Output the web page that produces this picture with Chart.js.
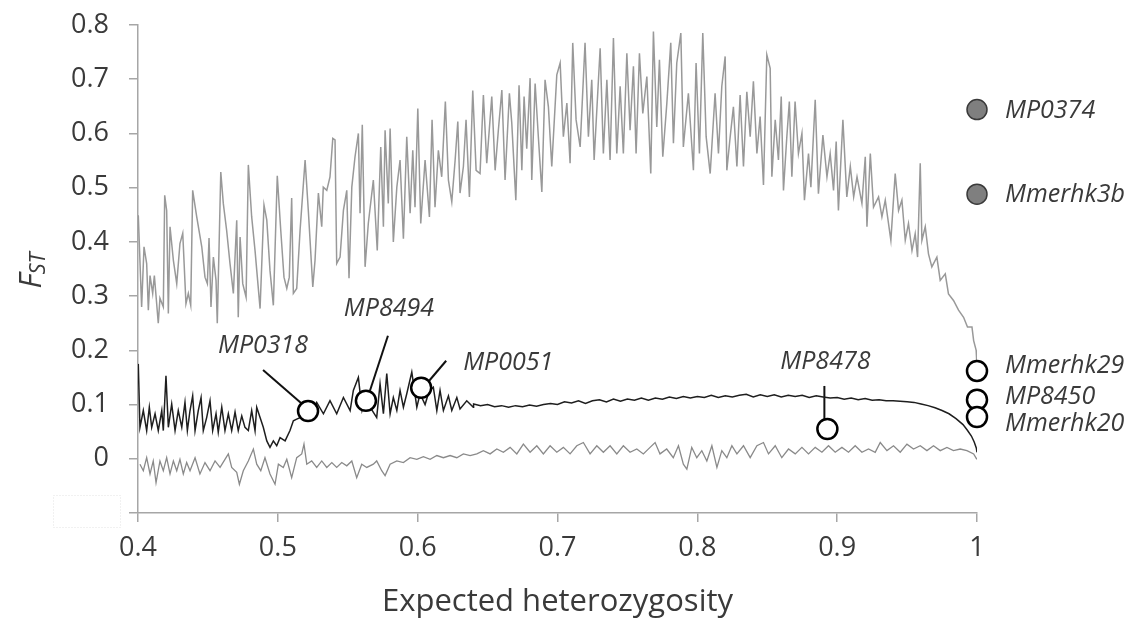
<!DOCTYPE html>
<html>
<head>
<meta charset="utf-8">
<script src="https://cdn.jsdelivr.net/npm/chart.js@4.4.1/dist/chart.umd.min.js"></script>
<style>
  html, body { margin: 0; padding: 0; background: #ffffff; }
  #chart { display: block; }
</style>
</head>
<body>
<canvas id="chart" width="1130" height="625"></canvas>
<script>
// tick labels
var xTicks = [0.4, 0.5, 0.6, 0.7, 0.8, 0.9, 1];
var yTicks = [-0.1, 0, 0.1, 0.2, 0.3, 0.4, 0.5, 0.6, 0.7, 0.8];

// upper line (grey, strongly oscillating)
var upperX = [0.4002,0.4026,0.4043,0.4062,0.4074,0.4086,0.4105,0.4117,0.4145,0.4157,0.4181,0.4191,0.4205,0.4217,0.4229,0.4253,0.4277,0.4300,0.4320,0.4343,
  0.4360,0.4377,0.4391,0.4420,0.4456,0.4479,0.4496,0.4508,0.4522,0.4539,0.4558,0.4567,0.4592,0.4610,0.4634,0.4658,0.4682,0.4706,0.4717,0.4730,
  0.4749,0.4773,0.4789,0.4813,0.4837,0.4873,0.4901,0.4921,0.4944,0.4968,0.4996,0.5021,0.5044,0.5064,0.5082,0.5099,0.5111,0.5135,0.5159,0.5195,
  0.5218,0.5250,0.5266,0.5290,0.5314,0.5325,0.5350,0.5373,0.5393,0.5409,0.5421,0.5445,0.5469,0.5493,0.5509,0.5529,0.5552,0.5576,0.5588,0.5604,
  0.5624,0.5647,0.5683,0.5711,0.5736,0.5755,0.5767,0.5790,0.5803,0.5826,0.5851,0.5874,0.5898,0.5922,0.5946,0.5965,0.5981,0.6001,0.6022,0.6053,
  0.6084,0.6103,0.6124,0.6148,0.6172,0.6198,0.6220,0.6244,0.6268,0.6287,0.6303,0.6327,0.6346,0.6370,0.6394,0.6418,0.6446,0.6470,0.6494,0.6530,
  0.6554,0.6577,0.6602,0.6625,0.6656,0.6673,0.6702,0.6725,0.6745,0.6761,0.6780,0.6804,0.6816,0.6840,0.6863,0.6888,0.6911,0.6935,0.6959,0.6995,
  0.7019,0.7042,0.7067,0.7090,0.7109,0.7133,0.7162,0.7197,0.7221,0.7245,0.7262,0.7305,0.7328,0.7353,0.7376,0.7400,0.7424,0.7448,0.7471,0.7496,
  0.7519,0.7543,0.7562,0.7586,0.7610,0.7639,0.7667,0.7686,0.7710,0.7729,0.7753,0.7782,0.7810,0.7829,0.7853,0.7882,0.7900,0.7936,0.7972,0.7991,
  0.8015,0.8039,0.8063,0.8092,0.8127,0.8151,0.8175,0.8199,0.8211,0.8235,0.8258,0.8283,0.8306,0.8330,0.8354,0.8378,0.8401,0.8426,0.8449,0.8473,
  0.8497,0.8521,0.8533,0.8557,0.8580,0.8600,0.8616,0.8640,0.8658,0.8676,0.8699,0.8723,0.8748,0.8766,0.8795,0.8812,0.8843,0.8866,0.8898,0.8927,
  0.8950,0.8974,0.8993,0.9009,0.9041,0.9069,0.9094,0.9118,0.9142,0.9177,0.9201,0.9213,0.9237,0.9260,0.9296,0.9320,0.9344,0.9384,0.9415,0.9439,
  0.9463,0.9487,0.9510,0.9535,0.9558,0.9575,0.9594,0.9606,0.9630,0.9653,0.9677,0.9713,0.9737,0.9773,0.9796,0.9832,0.9868,0.9904,0.9932,0.9964,
  0.9976,0.9994,0.9999];
var upperY = [0.449,0.280,0.391,0.360,0.274,0.338,0.305,0.338,0.250,0.296,0.280,0.486,0.458,0.268,0.428,0.366,0.323,0.397,0.416,0.286,
  0.305,0.283,0.495,0.446,0.391,0.335,0.323,0.407,0.280,0.372,0.329,0.250,0.529,0.471,0.421,0.360,0.305,0.440,0.261,0.409,
  0.323,0.298,0.542,0.446,0.384,0.277,0.468,0.440,0.347,0.283,0.522,0.421,0.335,0.314,0.335,0.481,0.305,0.314,0.421,0.551,
  0.458,0.317,0.366,0.490,0.428,0.501,0.495,0.520,0.591,0.588,0.360,0.372,0.458,0.495,0.333,0.501,0.557,0.600,0.453,0.616,
  0.354,0.434,0.514,0.384,0.575,0.428,0.606,0.471,0.609,0.400,0.501,0.551,0.406,0.594,0.453,0.569,0.464,0.646,0.434,0.551,
  0.446,0.625,0.464,0.569,0.520,0.659,0.514,0.474,0.551,0.622,0.490,0.539,0.625,0.483,0.679,0.532,0.526,0.671,0.545,0.668,
  0.532,0.606,0.680,0.514,0.674,0.619,0.477,0.689,0.532,0.668,0.572,0.702,0.514,0.692,0.594,0.492,0.699,0.649,0.539,0.708,
  0.730,0.594,0.656,0.545,0.767,0.625,0.575,0.767,0.594,0.699,0.551,0.757,0.563,0.699,0.551,0.776,0.563,0.687,0.563,0.748,
  0.606,0.724,0.563,0.748,0.637,0.705,0.526,0.788,0.612,0.736,0.557,0.656,0.767,0.582,0.730,0.785,0.575,0.674,0.532,0.730,
  0.563,0.785,0.594,0.526,0.674,0.563,0.687,0.742,0.532,0.594,0.649,0.539,0.671,0.539,0.677,0.594,0.696,0.563,0.631,0.505,
  0.745,0.720,0.520,0.625,0.551,0.668,0.495,0.594,0.659,0.520,0.659,0.563,0.600,0.477,0.563,0.501,0.662,0.489,0.597,0.520,
  0.563,0.495,0.585,0.458,0.625,0.483,0.539,0.483,0.520,0.471,0.557,0.428,0.563,0.464,0.483,0.446,0.477,0.403,0.526,0.458,
  0.477,0.403,0.434,0.384,0.415,0.372,0.545,0.403,0.428,0.378,0.354,0.372,0.329,0.341,0.304,0.292,0.274,0.261,0.243,0.243,
  0.218,0.200,0.175];

// median line (black)
var midX = [0.4002,0.4014,0.4038,0.4062,0.4081,0.4098,0.4122,0.4145,0.4170,0.4181,0.4200,0.4217,0.4241,0.4265,0.4288,0.4313,0.4336,0.4353,0.4372,0.4391,
  0.4408,0.4431,0.4451,0.4467,0.4491,0.4515,0.4534,0.4558,0.4574,0.4599,0.4622,0.4646,0.4670,0.4694,0.4717,0.4742,0.4765,0.4789,0.4813,0.4837,
  0.4849,0.4873,0.4896,0.4921,0.4944,0.4968,0.4992,0.5016,0.5052,0.5087,0.5111,0.5135,0.5159,0.5187,0.5216,0.5245,0.5278,0.5326,0.5373,0.5421,
  0.5469,0.5517,0.5540,0.5576,0.5602,0.5631,0.5660,0.5707,0.5731,0.5755,0.5779,0.5803,0.5826,0.5851,0.5874,0.5898,0.5922,0.5958,0.5994,0.6017,
  0.6053,0.6082,0.6112,0.6137,0.6160,0.6184,0.6220,0.6244,0.6280,0.6303,0.6351,0.6398,
  0.640,0.645,0.650,0.655,0.660,0.665,0.670,0.675,0.680,0.685,0.690,0.695,0.700,0.705,0.710,0.715,0.720,0.725,0.730,0.735,
  0.740,0.745,0.750,0.755,0.760,0.765,0.770,0.775,0.780,0.785,0.790,0.795,0.800,0.805,0.810,0.815,0.820,0.825,0.830,0.835,
  0.840,0.845,0.850,0.855,0.860,0.865,0.870,0.875,0.880,0.885,0.890,0.895,0.900,0.905,0.910,0.915,0.920,0.925,0.930,0.935,
  0.940,0.945,0.950,0.955,0.960,0.965,0.970,0.975,0.980,0.985,0.990,0.993,0.996,0.998,0.9995,1.000];
var midY = [0.175,0.058,0.089,0.052,0.095,0.058,0.083,0.052,0.089,0.052,0.153,0.058,0.101,0.052,0.089,0.058,0.104,0.052,0.089,0.116,
  0.052,0.089,0.113,0.052,0.076,0.107,0.052,0.083,0.049,0.095,0.052,0.083,0.052,0.086,0.052,0.079,0.058,0.052,0.089,0.052,
  0.095,0.076,0.058,0.033,0.021,0.033,0.024,0.039,0.033,0.052,0.070,0.073,0.076,0.085,0.088,0.082,0.104,0.083,0.107,0.083,
  0.113,0.089,0.126,0.150,0.090,0.120,0.095,0.076,0.138,0.083,0.157,0.083,0.113,0.089,0.126,0.095,0.120,0.160,0.095,0.120,
  0.100,0.125,0.132,0.089,0.126,0.089,0.116,0.089,0.113,0.092,0.107,0.095,
  0.101,0.098,0.100,0.096,0.098,0.095,0.098,0.096,0.099,0.097,0.100,0.102,0.100,0.105,0.103,0.107,0.102,0.107,0.109,0.105,
  0.110,0.106,0.110,0.108,0.112,0.108,0.112,0.110,0.114,0.111,0.115,0.112,0.115,0.113,0.117,0.113,0.116,0.114,0.117,0.119,
  0.114,0.118,0.115,0.118,0.114,0.117,0.115,0.117,0.113,0.116,0.114,0.112,0.113,0.110,0.112,0.109,0.111,0.108,0.109,0.107,
  0.107,0.106,0.105,0.104,0.101,0.098,0.094,0.089,0.083,0.074,0.063,0.053,0.042,0.031,0.020,0.012];

// lower line (grey)
var lowX = [0.4014,0.4038,0.4062,0.4086,0.4109,0.4129,0.4157,0.4181,0.4205,0.4229,0.4253,0.4277,0.4300,0.4324,0.4348,0.4372,0.4408,0.4443,0.4479,0.4515,
  0.4551,0.4587,0.4622,0.4646,0.4670,0.4706,0.4725,0.4753,0.4789,0.4825,0.4849,0.4878,0.4908,0.4944,0.4980,0.5004,0.5039,0.5064,0.5099,0.5135,
  0.5171,0.5187,0.5207,0.5242,0.5278,0.5314,0.5350,0.5386,0.5421,0.5457,0.5493,0.5529,0.5564,0.5600,0.5636,0.5683,0.5707,0.5743,0.5767,0.5803,
  0.5851,0.5898,0.5946,0.5994,0.6041,0.6089,0.6137,0.6184,0.6232,0.6280,0.6327,0.6375,0.6423,0.6470,0.6518,0.6566,0.6613,0.6661,0.6709,0.6756,
  0.6804,0.6852,0.6899,0.6947,0.6995,0.7042,0.7090,0.7138,0.7185,0.7233,0.7281,0.7328,0.7376,0.7424,0.7471,0.7519,0.7567,0.7614,0.7662,0.7698,
  0.7733,0.7781,0.7828,0.7865,0.7900,0.7925,0.7960,0.7996,0.8032,0.8068,0.8104,0.8140,0.8175,0.8211,0.8247,0.8283,0.8330,0.8378,0.8426,0.8473,
  0.8509,0.8557,0.8604,0.8652,0.8700,0.8748,0.8795,0.8843,0.8891,0.8938,0.8986,0.9034,0.9081,0.9129,0.9177,0.9224,0.9272,0.9308,0.9356,0.9403,
  0.9451,0.9499,0.9546,0.9594,0.9642,0.9689,0.9737,0.9785,0.9832,0.9880,0.9928,0.9976,0.9999];
var lowY = [-0.010,-0.022,0.002,-0.028,-0.004,-0.044,-0.004,-0.022,0.002,-0.028,-0.004,-0.022,-0.001,-0.028,-0.007,-0.022,0.002,-0.028,-0.007,-0.022,
  -0.004,-0.016,-0.001,0.009,-0.016,-0.025,-0.047,-0.022,-0.004,0.018,-0.010,-0.022,0.002,-0.028,-0.047,-0.010,-0.016,-0.001,-0.035,0.002,
  0.009,0.027,-0.010,-0.004,-0.016,-0.004,-0.016,-0.007,-0.016,-0.007,-0.013,-0.004,-0.035,-0.010,-0.016,-0.010,-0.004,-0.022,-0.031,-0.010,
  -0.004,-0.007,0.002,-0.001,0.004,-0.001,0.006,0.002,0.006,0.002,0.009,0.006,0.009,0.015,0.009,0.018,0.012,0.021,0.009,0.027,
  0.012,0.024,0.009,0.024,0.012,0.021,0.009,0.024,0.030,0.009,0.024,0.012,0.024,0.009,0.024,0.012,0.018,0.009,0.021,0.030,
  0.009,0.018,0.002,0.024,-0.010,-0.019,0.021,0.002,0.015,-0.004,0.024,-0.016,0.015,0.002,0.024,0.009,0.024,0.002,0.024,0.030,
  0.009,0.024,0.002,0.018,0.009,0.021,0.009,0.021,0.012,0.024,0.012,0.021,0.012,0.024,0.012,0.018,0.012,0.030,0.015,0.024,
  0.012,0.027,0.018,0.024,0.015,0.024,0.015,0.021,0.015,0.018,0.015,0.009,-0.001];

// named loci
var markerNames = ["MP0374", "Mmerhk3b", "Mmerhk29", "MP8450", "Mmerhk20", "MP0318", "MP8494", "MP0051", "MP8478"];
var markerX = [1.0, 1.0, 1.0, 1.0, 1.0, 0.5216, 0.5630, 0.6025, 0.8930];
var markerY = [0.644, 0.488, 0.162, 0.109, 0.077, 0.088, 0.107, 0.131, 0.055];
var markerFilled = [true, true, false, false, false, false, false, false, false];

// label placement in pixels, relative to the marker centre
var labelPos = {
    "MP0374":   { dx: 28, dy: 1, align: "left" },
    "Mmerhk3b": { dx: 28, dy: 1, align: "left" },
    "Mmerhk29": { dx: 28, dy: -5, align: "left" },
    "MP8450":   { dx: 28, dy: -3, align: "left" },
    "Mmerhk20": { dx: 28, dy: 7, align: "left" },
    "MP0318":   { dx: -45, dy: -65, align: "center", line: [-45, -41, -7, -8] },
    "MP8494":   { dx: 23, dy: -92, align: "center", line: [22, -65, 4, -10] },
    "MP0051":   { dx: 42, dy: -25, align: "left", line: [25, -27, 8, -7] },
    "MP8478":   { dx: -2, dy: -67, align: "center", line: [-3, -43, -3, -10] }
};

function toPoints(xs, ys) {
    var pts = [];
    for (var i = 0; i < xs.length; i++) {
        pts.push({ x: xs[i], y: ys[i] });
    }
    return pts;
}

var openPts = [], filledPts = [];
for (var i = 0; i < markerNames.length; i++) {
    if (markerFilled[i]) filledPts.push({ x: markerX[i], y: markerY[i] });
    else openPts.push({ x: markerX[i], y: markerY[i] });
}

var labelColor = "#3a3a3a";
var axisColor = "#a6a6a6";

var markerLabels = {
    id: "markerLabels",
    beforeDatasetsDraw: function (chart) {
        var ctx = chart.ctx;
        var xs = chart.scales.x, ys = chart.scales.y;
        ctx.save();
        ctx.strokeStyle = "#111111";
        ctx.lineWidth = 2;
        markerNames.forEach(function (name, i) {
            var p = labelPos[name];
            if (!p.line) return;
            var px = xs.getPixelForValue(markerX[i]);
            var py = ys.getPixelForValue(markerY[i]);
            ctx.beginPath();
            ctx.moveTo(px + p.line[0], py + p.line[1]);
            ctx.lineTo(px + p.line[2], py + p.line[3]);
            ctx.stroke();
        });
        ctx.restore();
    },
    afterDraw: function (chart) {
        var ctx = chart.ctx;
        var xs = chart.scales.x, ys = chart.scales.y;
        ctx.save();
        ctx.font = "italic 25px 'Open Sans'";
        ctx.fillStyle = labelColor;
        ctx.textBaseline = "middle";
        markerNames.forEach(function (name, i) {
            var p = labelPos[name];
            var px = xs.getPixelForValue(markerX[i]);
            var py = ys.getPixelForValue(markerY[i]);
            ctx.textAlign = p.align;
            ctx.fillText(name, px + p.dx, py + p.dy);
        });

        // y axis title, F with subscript ST
        ctx.translate(30, 270);
        ctx.rotate(-Math.PI / 2);
        ctx.textAlign = "left";
        ctx.textBaseline = "alphabetic";
        ctx.font = "italic 31px 'Open Sans'";
        var wF = ctx.measureText("F").width;
        ctx.font = "italic 22px 'Open Sans'";
        var wS = ctx.measureText("ST").width;
        var x0 = -(wF + wS) / 2;
        ctx.font = "italic 31px 'Open Sans'";
        ctx.fillText("F", x0, 11);
        ctx.font = "italic 22px 'Open Sans'";
        ctx.fillText("ST", x0 + wF - 1, 15);
        ctx.restore();

        // faint empty box left of the bottom tick
        ctx.save();
        ctx.strokeStyle = "#e2e2e2";
        ctx.lineWidth = 1;
        ctx.setLineDash([1, 2]);
        ctx.strokeRect(53.5, 495.5, 67, 32);
        ctx.restore();
    }
};

var ctx = document.getElementById("chart").getContext("2d");

var chart = new Chart(ctx, {
    type: "scatter",
    data: {
        datasets: [{
            label: "open",
            data: openPts,
            pointRadius: 10,
            pointBackgroundColor: "#ffffff",
            pointBorderColor: "#000000",
            pointBorderWidth: 2.5,
            showLine: false,
            clip: false
        }, {
            label: "filled",
            data: filledPts,
            pointRadius: 10,
            pointBackgroundColor: "#7f7f7f",
            pointBorderColor: "#3a3a3a",
            pointBorderWidth: 1.5,
            showLine: false,
            clip: false
        }, {
            label: "median",
            data: toPoints(midX, midY),
            showLine: true,
            borderColor: "#1e1e1e",
            borderWidth: 1.5,
            pointRadius: 0,
            tension: 0
        }, {
            label: "lower",
            data: toPoints(lowX, lowY),
            showLine: true,
            borderColor: "#8a8a8a",
            borderWidth: 1.3,
            pointRadius: 0,
            tension: 0
        }, {
            label: "upper",
            data: toPoints(upperX, upperY),
            showLine: true,
            borderColor: "#999999",
            borderWidth: 1.5,
            pointRadius: 0,
            tension: 0
        }]
    },
    options: {
        responsive: false,
        animation: false,
        devicePixelRatio: 1,
        layout: {
            padding: { top: 25, right: 153, bottom: 0, left: 0 }
        },
        plugins: {
            legend: { display: false },
            tooltip: { enabled: false }
        },
        scales: {
            x: {
                type: "linear",
                min: 0.4,
                max: 1,
                afterBuildTicks: function (scale) {
                    scale.ticks = xTicks.map(function (v) { return { value: v }; });
                },
                afterFit: function (scale) { scale.height = 112; },
                ticks: {
                    padding: 10,
                    color: labelColor,
                    font: { family: "'Open Sans'", size: 27 },
                    callback: function (v) { return String(Number(v.toFixed(1))); }
                },
                grid: {
                    drawOnChartArea: false,
                    drawTicks: true,
                    tickLength: 9,
                    color: axisColor,
                    lineWidth: 1.5
                },
                border: { display: true, color: axisColor, width: 1.5 },
                title: {
                    display: true,
                    text: "Expected heterozygosity",
                    color: labelColor,
                    font: { family: "'Open Sans'", size: 31 },
                    padding: { top: 0, bottom: 4 }
                }
            },
            y: {
                type: "linear",
                min: -0.1,
                max: 0.8,
                afterBuildTicks: function (scale) {
                    scale.ticks = yTicks.map(function (v) { return { value: v }; });
                },
                afterFit: function (scale) {
                    scale.width = 138;
                    scale.paddingTop = 0;
                    scale.paddingBottom = 0;
                },
                ticks: {
                    padding: 20,
                    color: labelColor,
                    font: { family: "'Open Sans'", size: 27 },
                    callback: function (v) {
                        if (v < -0.05) return "";
                        return String(Number(v.toFixed(1)));
                    }
                },
                grid: {
                    drawOnChartArea: false,
                    drawTicks: true,
                    tickLength: 9,
                    color: axisColor,
                    lineWidth: 1.5
                },
                border: { display: true, color: axisColor, width: 1.5 }
            }
        }
    },
    plugins: [markerLabels]
});
</script>
</body>
</html>
